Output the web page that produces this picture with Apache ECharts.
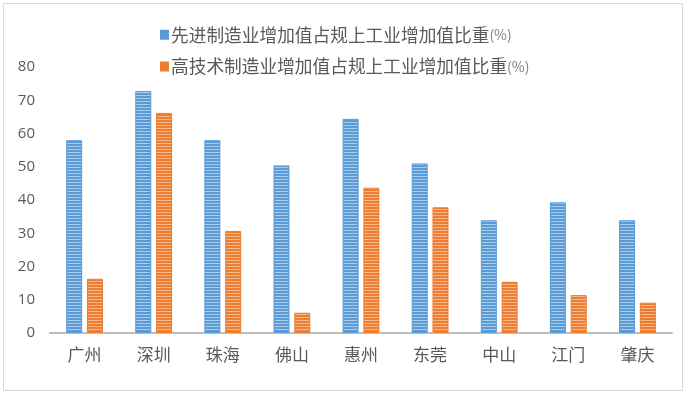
<!DOCTYPE html>
<html><head><meta charset="utf-8">
<script src="https://cdn.jsdelivr.net/npm/echarts@6/dist/echarts.min.js"></script>
<style>html,body{margin:0;padding:0;background:#fff}#c{width:687px;height:396px}</style>
</head><body><div id="c"></div>
<script>
const categories = ['广州','深圳','珠海','佛山','惠州','东莞','中山','江门','肇庆'];
const advancedShare = [58, 72.8, 58, 50.4, 64.4, 51, 33.9, 39.3, 33.9];
const hightechShare = [16.3, 66.2, 30.7, 6.1, 43.7, 37.8, 15.4, 11.4, 9.1];
const seriesNames = ['先进制造业增加值占规上工业增加值比重','高技术制造业增加值占规上工业增加值比重'];
const yTicks = [0, 10, 20, 30, 40, 50, 60, 70, 80];

function stripe(base, light){
  const cv = document.createElement('canvas');
  cv.width = 4; cv.height = 3;
  const ctx = cv.getContext('2d');
  ctx.fillStyle = base; ctx.fillRect(0,0,4,3);
  ctx.fillStyle = light; ctx.fillRect(0,2,4,1);
  return {image: cv, repeat: 'repeat'};
}
const chart = echarts.init(document.getElementById('c'));
const font = '"Noto Sans CJK SC", "Microsoft YaHei", sans-serif';
chart.setOption({
  animation: false,
  textStyle: {fontFamily: font},
  graphic: [{type:'rect', shape:{x:3.5,y:3.5,width:679,height:387}, style:{fill:'none', stroke:'#D9D9D9', lineWidth:1}, silent:true}],
  legend: {
    orient: 'vertical', left: 155, top: 21, icon: 'rect', itemWidth: 7, itemHeight: 8, itemGap: 14,
    textStyle: {fontSize: 17.7, color: '#595959', fontFamily: font, padding: [0,0,0,-2],
      rich: {s: {fontSize: 14, color: '#7F7F7F', fontFamily: font}}},
    formatter: n => n + '{s|(%)}',
    data: [
      {name: seriesNames[0], itemStyle: {color: '#5B9BD5'}},
      {name: seriesNames[1], itemStyle: {color: '#ED7D31'}}
    ]
  },
  grid: {left: 50, right: 15, top: 67, bottom: 63},
  xAxis: {
    type: 'category', data: categories,
    axisLine: {lineStyle: {color: '#BFBFBF', width: 2}},
    axisTick: {show: false},
    axisLabel: {fontSize: 17, color: '#595959', margin: 13, fontFamily: font}
  },
  yAxis: {
    type: 'value', min: yTicks[0], max: yTicks[yTicks.length-1], interval: 10,
    axisLine: {show: false}, axisTick: {show: false}, splitLine: {show: false},
    axisLabel: {fontSize: 15, color: '#595959', margin: 15, fontFamily: '"Open Sans", sans-serif'}
  },
  series: [
    {name: seriesNames[0], type: 'bar', data: advancedShare, barWidth: 16, barGap: '30%',
     itemStyle: {color: stripe('#5B9BD5', '#A9CBEC'), borderColor: '#5B9BD5', borderWidth: 1}},
    {name: seriesNames[1], type: 'bar', data: hightechShare, barWidth: 16, barGap: '30%',
     itemStyle: {color: stripe('#ED7D31', '#F6B98F'), borderColor: '#ED7D31', borderWidth: 1}}
  ]
});
</script></body></html>
